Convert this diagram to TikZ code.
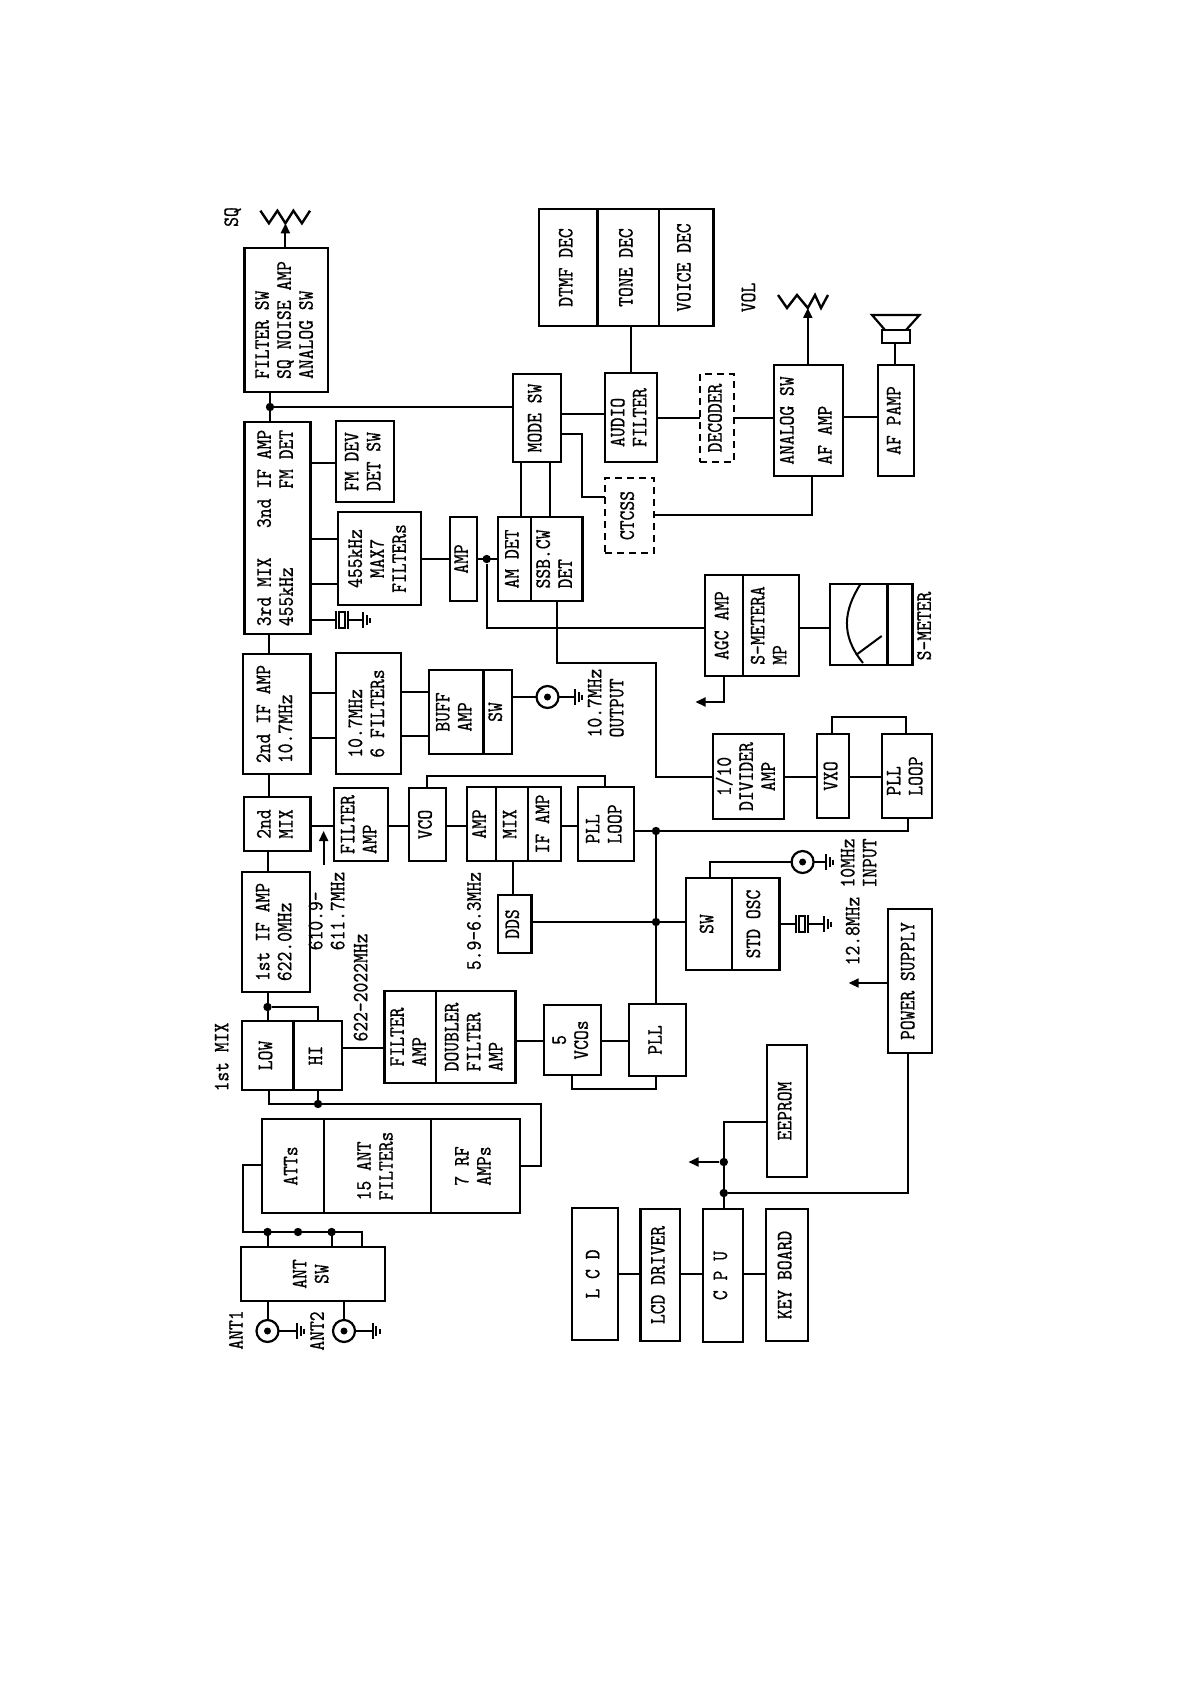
\documentclass[tikz,border=0pt]{standalone}
\usepackage{fontspec}
\usepackage{graphicx}
\setmainfont[FakeStretch=0.85,FakeBold=0.6]{Latin Modern Mono}
\usetikzlibrary{arrows.meta,shapes.geometric,calc}
\newcommand\T[1]{\rotatebox{90}{\begin{tabular}{@{}l@{}}#1\end{tabular}}}
\newcommand\Tc[1]{\rotatebox{90}{\begin{tabular}{@{}c@{}}#1\end{tabular}}}
\newcommand\bx[7][]{\node[box,#1,minimum width={(#5-#3)*0.5pt},minimum height={(#6-#4)*0.5pt}] (#2) at ({(#3+#5)/2},{(#4+#6)/2}) {#7};}
\newcommand\hl[3]{\draw[wire] (#1|-0,#3) -- (#2|-0,#3);}
\newcommand\vl[3]{\draw[wire] (#3,0|-#1) -- (#3,0|-#2);}
\newcommand\gnd[2]{\draw[wire] ({#1},{#2-8}) -- ({#1},{#2+8}) ({#1+3.5},{#2-5}) -- ({#1+3.5},{#2+5}) ({#1+7},{#2-2.5}) -- ({#1+7},{#2+2.5});}
\newcommand\xtal[2]{\draw[wire] ({#1},{#2-9}) -- ({#1},{#2+9}) ({#1+12},{#2-9}) -- ({#1+12},{#2+9}); \draw[wire] ({#1+3},{#2-8}) rectangle ({#1+9},{#2+8});}
\tikzset{
  box/.style={draw,line width=1.1pt,inner sep=0pt,outer sep=0pt,font=\fontsize{11}{11}\selectfont},
  txt/.style={inner sep=0pt,outer sep=0pt,font=\fontsize{11}{11}\selectfont},
  wire/.style={line width=1pt},
  dash box/.style={dash pattern=on 3.5pt off 2.5pt},
  dot/.style={circle,fill=black,inner sep=0pt,minimum size=4.2pt},
  jack/.style={circle,draw,line width=1.1pt,inner sep=0pt,minimum size=11pt,outer sep=0pt},
  tip/.style={-{Triangle[length=5pt,width=4.5pt]}}
}
\begin{document}
\begin{tikzpicture}[x=0.5pt,y=-0.5pt]
\useasboundingbox (0,0) rectangle (1191,1684);
% top chain
\bx{fsw}{244.4}{248}{328.3}{392}{\T{FILTER SW\\SQ NOISE AMP\\ANALOG SW}}
\bx{ifc}{244.4}{422}{310.4}{634}{\T{3rd MIX~~~3nd IF AMP\\455kHz~~~~~~~~FM DET}}
\bx{fmdev}{335.9}{421}{393.8}{502}{\T{FM DEV\\DET SW}}
\bx{fsf}{338.2}{512}{420.7}{605}{\Tc{455kHz\\MAX7\\FILTERs}}
\bx{ampc}{450}{517}{476.8}{601}{\T{AMP}}
\bx{amdet}{497.6}{517}{530.6}{601}{\T{AM DET}}
\bx{ssb}{530.6}{517}{582.4}{601}{\T{SSB.CW\\DET}}
\bx{mode}{513}{374}{561}{462}{\T{MODE SW}}
\bx{audio}{605}{373}{657}{462}{\T{AUDIO\\FILTER}}
\bx{dtmf}{538.6}{209}{597.5}{326}{\T{DTMF DEC}}
\bx{tone}{597.5}{209}{658.8}{326}{\T{TONE DEC}}
\bx{voice}{658.8}{209}{713.5}{326}{\T{VOICE DEC}}
\bx[dash box]{dec}{700.3}{374}{734.2}{462}{\T{DECODER}}
\bx{answ}{773.8}{365}{842.6}{476}{\T{ANALOG SW\\[8pt]AF AMP}}
\bx{afp}{878}{365}{913.8}{476}{\T{AF PAMP}}
\bx[dash box]{ctcss}{605}{478}{654}{553}{\T{CTCSS}}
\bx{agc}{705}{575}{742.7}{676}{\T{AGC AMP}}
\bx{smamp}{742.7}{575}{799.3}{676}{\T{S-METERA\\MP}}
\bx{meter}{830}{584}{887.4}{665}{}
\bx{meterb}{887.4}{584}{912.4}{665}{}
% second column
\bx{ifb}{243}{654}{310.4}{774}{\T{2nd IF AMP\\10.7MHz}}
\bx{fsix}{336.3}{653}{401}{774}{\T{10.7MHz\\6 FILTERs}}
\bx{buff}{428.7}{670}{483.4}{754}{\T{BUFF\\AMP}}
\bx{bsw}{483.4}{670}{511.7}{754}{\T{SW}}
\bx{divd}{713}{734}{784}{819}{\Tc{1/10\\DIVIDER\\AMP}}
\bx{vxo}{817}{734}{848.8}{818}{\T{VXO}}
\bx{pllb}{881.8}{734}{932}{818}{\T{PLL\\LOOP}}
\bx{mixb}{244}{797}{310.4}{851}{\T{2nd\\MIX}}
\bx{fampb}{334}{788}{387.7}{861}{\T{FILTER\\AMP}}
\bx{vco}{409}{788}{445.7}{861}{\T{VCO}}
\bx{lamp}{467}{787}{495.7}{861}{\T{AMP}}
\bx{lmix}{495.7}{787}{528.2}{861}{\T{MIX}}
\bx{lif}{528.2}{787}{561.2}{861}{\T{IF AMP}}
\bx{plla}{577.7}{787}{634.3}{861}{\T{PLL\\LOOP}}
\bx{dds}{497.6}{895}{531.5}{953}{\T{DDS}}
\bx{sw}{686}{878}{731.8}{970}{\T{SW}}
\bx{osc}{731.8}{878}{779.5}{970}{\T{STD OSC}}
\bx{psu}{888}{909}{932}{1053}{\T{POWER SUPPLY}}
\bx{ifa}{242}{872}{310}{992}{\T{1st IF AMP\\622.0MHz}}
\bx{low}{242}{1021}{293.4}{1090}{\T{LOW}}
\bx{hi}{293.4}{1021}{342}{1090}{\T{HI}}
\bx{fampa}{384.4}{991}{436.3}{1083}{\T{FILTER\\AMP}}
\bx{dbl}{436.3}{991}{515.5}{1083}{\T{DOUBLER\\FILTER\\AMP}}
\bx{vcos}{543.7}{1005}{601.3}{1075}{\Tc{5\\VCOs}}
\bx{pllc}{628.6}{1004}{686}{1076}{\T{PLL}}
\bx{att}{261.9}{1119}{324}{1213}{\T{ATTs}}
\bx{antf}{324}{1119}{430.6}{1213}{\T{15 ANT\\FILTERs}}
\bx{rf}{430.6}{1119}{519.7}{1213}{\T{7 RF\\AMPs}}
\bx{ant}{241}{1247}{385}{1301}{\Tc{ANT\\SW}}
\bx{lcd}{572}{1208}{618}{1340}{\T{L C D}}
\bx{drv}{640.4}{1209}{680}{1341}{\T{LCD DRIVER}}
\bx{cpu}{702.6}{1209}{742.7}{1342}{\T{C P U}}
\bx{key}{766}{1209}{807.8}{1341}{\T{KEY BOARD}}
\bx{eep}{767}{1045}{807}{1177}{\T{EEPROM}}
% labels
\node[txt] (lsq) at (233.6,217) {\T{SQ}};
\node[txt] (lvol) at (750.7,297.5) {\T{VOL}};
\node[txt] (lsm) at (926.5,626) {\T{S-METER}};
\node[txt] (lout) at (608,703) {\T{10.7MHz\\OUTPUT}};
\node[txt] (llo) at (329,911) {\T{610.9-\\611.7MHz}};
\node[txt] (ldds) at (476.3,921) {\T{5.9-6.3MHz}};
\node[txt] (lin) at (861,863) {\T{10MHz\\INPUT}};
\node[txt] (lxt) at (855,931) {\T{12.8MHz}};
\node[txt] (lvhf) at (363,987.5) {\T{622-2022MHz}};
\node[txt] (lfirst) at (224,1057) {\T{1st MIX}};
\node[txt] (la) at (238.3,1330) {\T{ANT1}};
\node[txt] (lb) at (319.4,1331) {\T{ANT2}};
% junctions
\node[dot] (j1) at (270,407) {};
\node[dot] (j2) at (486.7,559) {};
\node[dot] (j3) at (656,831) {};
\node[dot] (j4) at (656,922) {};
\node[dot] (j5) at (267.5,1007) {};
\node[dot] (j6) at (318,1104) {};
\node[dot] (j7) at (267.5,1232) {};
\node[dot] (j8) at (298,1232) {};
\node[dot] (j9) at (331.6,1232) {};
\node[dot] (j10) at (723.8,1162) {};
\node[dot] (j11) at (723.8,1193) {};
% jacks
\node[jack] (joa) at (547.5,697) {}; \node[dot,minimum size=3.5pt] at (joa) {};
\node[jack] (job) at (802.6,862) {}; \node[dot,minimum size=3.5pt] at (job) {};
\node[jack] (joc) at (267.5,1331) {}; \node[dot,minimum size=3.5pt] at (joc) {};
\node[jack] (jod) at (344,1331) {}; \node[dot,minimum size=3.5pt] at (jod) {};
% free ends
\coordinate (ga) at (575.3,697);
\coordinate (gb) at (826,862);
\coordinate (gc) at (297,1331);
\coordinate (gd) at (372.6,1331);
\coordinate (rsq) at (285.4,223.3);
\coordinate (rvol) at (807.8,308);
\coordinate (spk) at (895,343);
% vertical chain
\vl{fsw.south}{j1}{270}
\vl{j1}{ifc.north}{270}
\vl{ifc.south}{ifb.north}{269}
\vl{ifb.south}{mixb.north}{269}
\vl{mixb.south}{ifa.north}{268}
\vl{ifa.south}{low.north}{268}
\hl{j1}{mode.west}{407}
\hl{ifc.east}{fmdev.west}{463}
\hl{ifc.east}{fsf.west}{539}
\hl{ifc.east}{fsf.west}{584}
\hl{fsf.east}{ampc.west}{559}
\hl{ampc.east}{amdet.west}{559}
\vl{mode.south}{amdet.north}{521}
\vl{mode.south}{ssb.north}{550.4}
\hl{mode.east}{audio.west}{414}
\vl{tone.south}{audio.north}{630.5}
\hl{audio.east}{dec.west}{418}
\hl{dec.east}{answ.west}{418}
\hl{answ.east}{afp.west}{417}
\draw[wire] (mode.east|-0,434) -| (582.4,497) -- (ctcss.west|-0,497);
\draw[wire] (ctcss.east|-0,515) -| (812.4,0|-answ.south);
\draw[wire] (j2) |- (agc.west|-0,628);
\hl{smamp.east}{meter.west}{628}
\draw[wire] (557.4,0|-ssb.south) |- (655.5,663) |- (divd.west|-0,777);
\draw[wire,tip] (723.8,0|-agc.south) |- (695.5,702);
\draw[wire,tip] (285.4,0|-fsw.north) -- (rsq);
\draw[wire,tip] (807.8,0|-answ.north) -- (rvol);
\vl{afp.north}{spk}{895}
% IF2 branch
\hl{ifb.east}{fsix.west}{693}
\hl{ifb.east}{fsix.west}{738}
\hl{fsix.east}{buff.west}{692}
\hl{fsix.east}{buff.west}{736}
\hl{bsw.east}{joa.west}{697}
\draw[wire] (joa.east) -- (ga);
\gnd{575.3}{697}
\hl{divd.east}{vxo.west}{777}
\hl{vxo.east}{pllb.west}{777}
\draw[wire] (832,0|-vxo.north) |- (906,717) -- (906,0|-pllb.north);
\hl{mixb.east}{fampb.west}{826}
\draw[wire,tip] (323.6,865) -- (323.6,831);
\hl{fampb.east}{vco.west}{826}
\hl{vco.east}{lamp.west}{826}
\hl{lif.east}{plla.west}{826}
\draw[wire] (426.8,0|-vco.north) |- (605,776) -- (605,0|-plla.north);
\draw[wire] (plla.east|-0,831) -| (907.7,0|-pllb.south);
\vl{j3}{pllc.north}{656}
\vl{lmix.south}{dds.north}{513}
\hl{dds.east}{sw.west}{922}
\draw[wire] (709.7,0|-sw.north) |- (job.west);
\draw[wire] (job.east) -- (gb);
\gnd{826}{862}
\draw[wire] (osc.east|-0,924) -- (796,924);
\xtal{796}{924}
\draw[wire] (808,924) -- (824,924);
\gnd{824}{924}
\draw[wire] (ifc.east|-0,620) -- (336,620);
\xtal{336}{620}
\draw[wire] (348,620) -- (363,620);
\gnd{363}{620}
\draw[wire,tip] (psu.west|-0,983) -- (848.7,983);
% LO chain
\draw[wire] (j5) -| (317.5,0|-hi.north);
\hl{hi.east}{fampa.west}{1048}
\hl{dbl.east}{vcos.west}{1041}
\hl{vcos.east}{pllc.west}{1041}
\draw[wire] (572,0|-vcos.south) |- (656.4,1089) -- (656.4,0|-pllc.south);
\draw[wire] (268.5,0|-low.south) |- (541,1104) |- (rf.east|-0,1166);
\vl{hi.south}{j6}{318}
\draw[wire] (att.west|-0,1165) -| (243,1232) -| (362.3,0|-ant.north);
\vl{j7}{ant.north}{267.5}
\vl{j9}{ant.north}{331.6}
\vl{ant.south}{joc.north}{267.5}
\vl{ant.south}{jod.north}{344}
\draw[wire] (joc.east) -- (gc);
\gnd{297}{1331}
\draw[wire] (jod.east) -- (gd);
\gnd{372.6}{1331}
% control
\hl{lcd.east}{drv.west}{1274}
\hl{drv.east}{cpu.west}{1274}
\hl{cpu.east}{key.west}{1274}
\draw[wire] (723.8,0|-cpu.north) |- (eep.west|-0,1122);
\draw[wire,tip] (j10) -- (688.5,1162);
\draw[wire] (j11) -| (908,0|-psu.south);
% resistors
\draw[line width=1.2pt] (260.4,210.7)--(268.9,223.3)--(277.4,210.7)--(285.4,223.3)--(293.4,210.7)--(301.9,223.3)--(310,210.7);
\draw[line width=1.2pt] (778,295)--(787,308)--(797,295)--(807.8,308)--(815,295)--(821,308)--(828,295);
% speaker
\draw[line width=1.1pt] (881.8,330) rectangle (910,343);
\draw[line width=1.1pt] (885,330) -- (872,315) -- (919.5,315) -- (906,330);
% meter face
\draw[wire] (860.5,584) .. controls (844,610) and (840,635) .. (863,663);
\draw[wire] (856,655) -- (881.7,636);
\end{tikzpicture}
\end{document}
